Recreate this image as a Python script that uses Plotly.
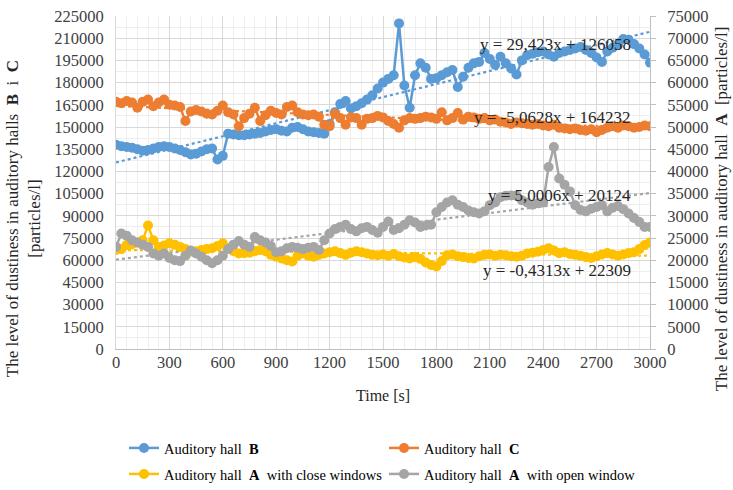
import plotly.graph_objects as go

# ---------------- data ----------------
time_s = list(range(0, 3001, 30))

hall_B = [
    138000, 137000, 136500, 136000, 135000, 134000, 134500, 135500, 136500, 137000,
    136500, 135500, 134500, 133000, 131500, 132000, 133500, 135000, 135500, 128000,
    130500, 145500, 145000, 144500, 144500, 145000, 145500, 146000, 147000, 148000,
    148500, 147500, 147000, 149500, 150000, 148500, 147000, 146500, 146000, 145500,
    152000, 160000, 165500, 167500, 162500, 164000, 166000, 168500, 171500, 176000,
    180000, 182500, 185000, 220000, 178000, 163000, 185000, 193000, 190000, 182500,
    183000, 185000, 187000, 188500, 177000, 184000, 190000, 193000, 194000, 200000,
    196000, 192000, 197500, 193000, 189500, 185500, 195000, 198500, 199500, 200500,
    201000, 199000, 197500, 200000, 201000, 202000, 203000, 204000, 202000, 200000,
    197000, 194000, 201000, 203500, 205500, 209500, 209000, 206000, 203000, 199000,
    193500,
]

hall_C = [
    167000, 166000, 167500, 166500, 163000, 167000, 168500, 164000, 166500, 168500,
    165000, 164500, 163500, 154000, 160500, 161500, 160500, 159000, 158500, 161000,
    164500, 160000, 158500, 150500, 156000, 159000, 163000, 154000, 158000, 161000,
    159500, 158500, 163500, 164500, 160000, 158500, 158000, 158500, 157000, 151500,
    150500, 159000, 156000, 151500, 156500, 156000, 151500, 155500, 156000, 157500,
    156500, 154000, 152000, 149500, 154500, 156000, 155500, 156000, 157000, 156500,
    155500, 160000, 154500, 156000, 159500, 155000, 157000, 156500, 155500, 156000,
    154500, 155000, 153500, 153000, 152000, 153000, 152500, 152000, 151500, 152000,
    151000, 150500, 151500, 149500, 149000, 148500, 149000, 148000, 147500, 148500,
    146500, 148000, 149500, 150500, 149500, 151000, 150500, 149500, 150000, 151000,
    150500,
]

hall_A_close = [
    22300, 22500, 23400, 23600, 24000, 24500, 27800, 24500, 23000, 23300,
    23800, 23500, 23000, 22500, 21900, 22000, 22300, 22500, 22700, 23200,
    23800, 22700, 22000, 21500, 21600, 21700, 22000, 22300, 22000, 21200,
    20800, 20400, 20000, 19700, 21000, 21500, 21000, 20800, 21200, 21500,
    21800, 22000, 21600, 21200, 21700, 22000, 21800, 21500, 21200, 21100,
    21300, 21000, 21400, 20900, 20600, 20400, 20700, 20300, 19500, 18900,
    18600, 19800, 21100, 21300, 20900, 20700, 20500, 20400, 20900, 21200,
    21300, 21000, 21200, 21100, 20900, 20800, 21000, 21500, 21700, 21900,
    22300, 22700, 22200, 21600, 21800, 21400, 21200, 21000, 20700, 20500,
    20900, 21300, 21600, 21300, 21000, 21300, 21600, 21800, 22500, 23400,
    24000,
]

hall_A_open = [
    23000, 26000, 25500, 24500, 24000, 23500, 23000, 21500, 21000, 21500,
    20500, 20000, 19800, 21000, 22200, 21500, 20800, 20000, 19300, 20000,
    21000, 22500, 23500, 24300, 23500, 23000, 25200, 24500, 24000, 23200,
    21800, 22000, 22700, 23000, 22800, 22500, 22800, 23000, 22300, 24500,
    26000, 27000, 27500, 28000, 27000, 26500, 27200, 27500, 26800, 26200,
    27500, 28700, 26800, 27200, 28000, 29000, 28500, 27500, 27800, 28000,
    30800, 32000, 33000, 33500, 32500, 32000, 31200, 30800, 30500, 31000,
    32400, 33000, 34200, 34500, 34600, 34500, 33500, 33000, 32500, 32800,
    33000, 41000, 45500, 38400, 37000, 35500, 32400, 31300, 31000, 31600,
    32000, 32400, 31000, 31800, 32200, 31500, 30500, 29500, 28600, 27500,
    27500,
]

series_names = [
    "Auditory hall  <b>B</b>",
    "Auditory hall  <b>C</b>",
    "Auditory hall  <b>A</b>  with close windows",
    "Auditory hall  <b>A</b>  with open window",
]
trend_slopes = [29.423, -5.0628, -0.4313, 5.0006]
trend_intercepts = [126058, 164232, 22309, 20124]
trend_labels = [
    "y = 29,423x + 126058",
    "y = -5,0628x + 164232",
    "y = -0,4313x + 22309",
    "y = 5,0006x + 20124",
]

left_ticks = list(range(0, 225001, 15000))
right_ticks = list(range(0, 75001, 5000))
x_ticks = list(range(0, 3001, 300))

# ---------------- style ----------------
colors = ["#5b9bd5", "#ed7d31", "#ffc000", "#a5a5a5"]
axes = ["y", "y", "y2", "y2"]
legends = ["legend", "legend", "legend2", "legend2"]
series = [hall_B, hall_C, hall_A_close, hall_A_open]
FONT = "Liberation Serif"
W, H = 733, 490

fig = go.Figure()

for i in range(4):
    xs = [time_s[0], time_s[-1]]
    ys = [trend_slopes[i] * x + trend_intercepts[i] for x in xs]
    fig.add_trace(go.Scatter(
        x=xs, y=ys, mode="lines", yaxis=axes[i], showlegend=False,
        line=dict(color=colors[i], width=2.2, dash="dot"), hoverinfo="skip",
    ))

for i in range(4):
    fig.add_trace(go.Scatter(
        x=time_s, y=series[i], mode="lines+markers", name=series_names[i],
        yaxis=axes[i], legend=legends[i],
        line=dict(color=colors[i], width=2.5),
        marker=dict(size=10, color=colors[i]),
    ))

label_y = [0.913, 0.694, 0.237, 0.462]
for i in range(4):
    fig.add_annotation(
        text=trend_labels[i], xref="paper", yref="paper",
        x=0.968, y=label_y[i], xanchor="right", yanchor="middle",
        showarrow=False, font=dict(family=FONT, size=17, color="#262626"),
    )

fig.add_annotation(
    text="The level of dustiness in auditory halls  <b>B</b>  i  <b>C</b><br>[particles/l]",
    xref="paper", yref="paper", x=-0.174, y=0.39, xanchor="center", yanchor="middle",
    textangle=-90, showarrow=False, font=dict(family=FONT, size=17, color="#262626"),
)
fig.add_annotation(
    text="The level of dustiness in auditory hall  <b>A</b>  [particles/l]",
    xref="paper", yref="paper", x=1.133, y=0.42, xanchor="center", yanchor="middle",
    textangle=-90, showarrow=False, font=dict(family=FONT, size=17, color="#262626"),
)
fig.add_annotation(
    text="Time [s]", xref="paper", yref="paper", x=0.5, y=-0.14,
    xanchor="center", yanchor="middle", showarrow=False,
    font=dict(family=FONT, size=16, color="#262626"),
)

tickfont = dict(family=FONT, size=16.5, color="#404040")
fig.update_layout(
    width=W, height=H,
    margin=dict(l=116, r=83, t=16, b=141, autoexpand=False),
    paper_bgcolor="white", plot_bgcolor="white",
    showlegend=True,
    xaxis=dict(
        range=[0, 3000], tickvals=x_ticks, ticktext=[str(v) for v in x_ticks],
        showgrid=True, gridcolor="#d9d9d9", gridwidth=1,
        minor=dict(dtick=60, showgrid=True, gridcolor="#eeeeee"),
        zeroline=False, showline=True, linecolor="#bfbfbf",
        tickfont=tickfont, ticks="", automargin=False, ticklabeloverflow="allow",
        ticklabelstandoff=-2,
    ),
    yaxis=dict(
        range=[0, 225000], tickvals=left_ticks, ticktext=[str(v) for v in left_ticks],
        showgrid=True, gridcolor="#d9d9d9", gridwidth=1,
        minor=dict(dtick=7500, showgrid=True, gridcolor="#eeeeee"),
        zeroline=False, showline=True, linecolor="#d9d9d9",
        tickfont=tickfont, ticks="", ticklabelstandoff=8, automargin=False,
        ticklabeloverflow="allow",
    ),
    yaxis2=dict(
        range=[0, 75000], tickvals=right_ticks, ticktext=[str(v) for v in right_ticks],
        overlaying="y", side="right", showgrid=False, zeroline=False,
        showline=True, linecolor="#bfbfbf", ticks="outside", ticklen=5,
        tickcolor="#bfbfbf", tickfont=tickfont, ticklabelstandoff=8, automargin=False,
        ticklabeloverflow="allow",
    ),
    legend=dict(
        orientation="h", x=0.015, y=1 - 448 / H, xref="paper", yref="container",
        xanchor="left", yanchor="middle",
        entrywidth=215, entrywidthmode="pixels",
        font=dict(family=FONT, size=14.5, color="#000000"), bgcolor="rgba(0,0,0,0)",
    ),
    legend2=dict(
        orientation="h", x=0.015, y=1 - 474 / H, xref="paper", yref="container",
        xanchor="left", yanchor="middle",
        entrywidth=215, entrywidthmode="pixels",
        font=dict(family=FONT, size=14.5, color="#000000"), bgcolor="rgba(0,0,0,0)",
    ),
)

fig.write_html(
    "out.html",
    config={"displayModeBar": False},
    post_script="document.body.style.margin='0';document.body.style.padding='0';",
)
